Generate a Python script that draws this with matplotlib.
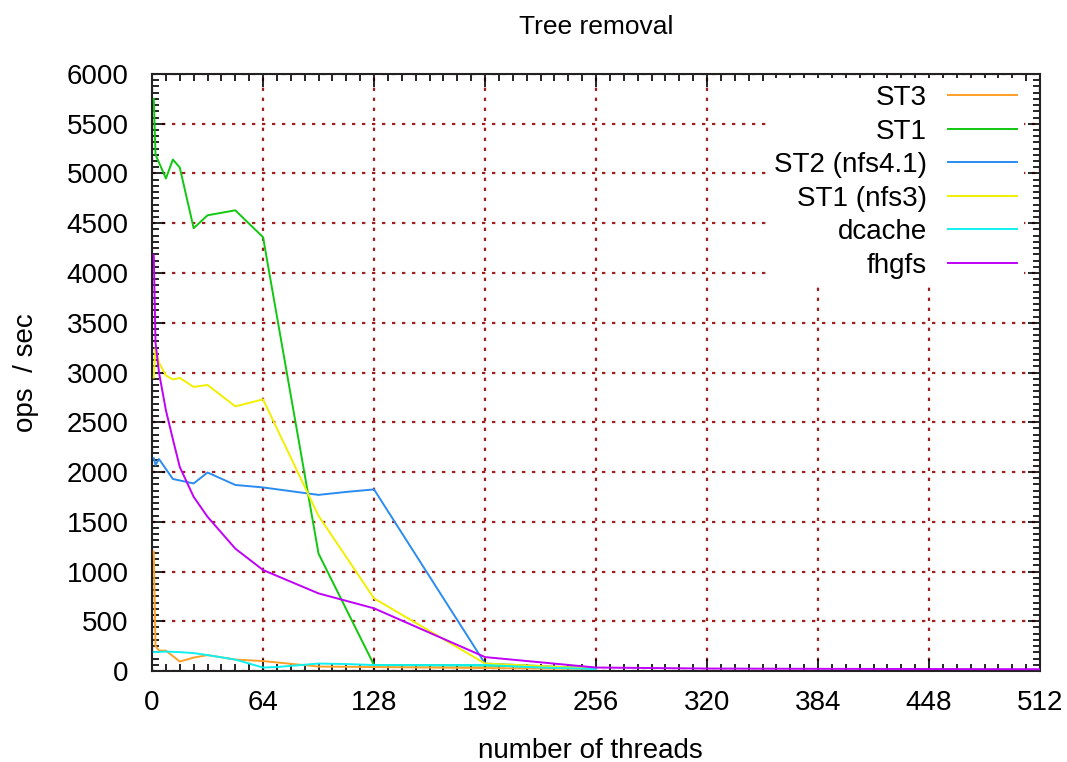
import matplotlib
matplotlib.use("Agg")
import matplotlib.pyplot as plt
from matplotlib.ticker import MultipleLocator, AutoMinorLocator

plt.rcParams['font.family'] = ['Liberation Sans', 'DejaVu Sans']

# thread counts and ops/sec per filesystem
x_st3 = [1, 2, 4, 8, 16, 24, 32, 48, 64, 96, 128, 192, 256]
y_st3 = [1200, 250, 205, 205, 95, 135, 160, 115, 100, 45, 40, 30, 20]

x_st1 = [1, 2, 8, 12, 16, 24, 32, 48, 64, 96, 128, 192, 256]
y_st1 = [5750, 5190, 4950, 5140, 5060, 4450, 4580, 4630, 4360, 1180, 60, 55, 30]

x_st2 = [1, 2, 4, 12, 24, 32, 48, 64, 96, 112, 128, 192, 256]
y_st2 = [2140, 2070, 2130, 1930, 1885, 1995, 1870, 1845, 1770, 1800, 1825, 75, 25]

x_nfs3 = [1, 2, 4, 8, 12, 16, 24, 32, 48, 64, 96, 128, 192, 256]
y_nfs3 = [2950, 3250, 3100, 2970, 2930, 2945, 2855, 2875, 2660, 2730, 1560, 730, 75, 25]

x_dcache = [1, 8, 16, 24, 32, 48, 64, 72, 96, 112, 128, 192, 224, 256]
y_dcache = [190, 195, 190, 180, 160, 115, 35, 40, 75, 70, 60, 60, 35, 20]

x_fhgfs = [1, 2, 4, 8, 12, 16, 24, 32, 48, 64, 96, 128, 192, 256, 320, 384, 448, 512]
y_fhgfs = [4180, 3300, 3000, 2620, 2330, 2050, 1750, 1550, 1230, 1015, 780, 630, 140, 35, 25, 22, 20, 18]

series = [
    ("ST3", x_st3, y_st3, "#ffa028"),
    ("ST1", x_st1, y_st1, "#10c810"),
    ("ST2 (nfs4.1)", x_st2, y_st2, "#2a8cf0"),
    ("ST1 (nfs3)", x_nfs3, y_nfs3, "#f0f000"),
    ("dcache", x_dcache, y_dcache, "#10f0f0"),
    ("fhgfs", x_fhgfs, y_fhgfs, "#c000f8"),
]

fig = plt.figure(figsize=(10.67, 7.62), dpi=100)
ax = fig.add_axes([0.1425, 0.1194, 0.8322, 0.7835])

for name, xs, ys, col in series:
    ax.plot(xs, ys, color=col, lw=1.4, label=name, zorder=3)

ax.set_xlim(0, 512)
ax.set_ylim(0, 6000)
ax.xaxis.set_major_locator(MultipleLocator(64))
ax.xaxis.set_minor_locator(AutoMinorLocator(8))
ax.yaxis.set_major_locator(MultipleLocator(500))
ax.yaxis.set_minor_locator(AutoMinorLocator(8))

ax.grid(True, which='major', color='#a02020', linestyle=(0, (1.5, 3)), lw=1.6)
ax.set_axisbelow(True)

ax.tick_params(which='both', direction='in', top=True, right=True, width=1.2, colors='black')
ax.tick_params(which='major', length=9, labelsize=20)
ax.tick_params(which='minor', length=5)
ax.tick_params(axis='x', pad=14)
ax.tick_params(axis='y', pad=17)
for sp in ax.spines.values():
    sp.set_linewidth(1.5)
    sp.set_color('#222222')

ax.set_title("Tree removal", fontsize=19, pad=29)
ax.set_xlabel("number of threads", fontsize=20)
ax.set_ylabel("ops  / sec", fontsize=20)
ax.xaxis.set_label_coords(0.494, -0.112)
ax.yaxis.set_label_coords(-0.127, 0.5)

leg = ax.legend(loc='upper right', bbox_to_anchor=(0.982, 0.993), fontsize=20,
                markerfirst=False, handlelength=2.5, handletextpad=0.75,
                labelspacing=0.27, borderpad=0.25, borderaxespad=0,
                frameon=True, fancybox=False, framealpha=1,
                facecolor='white', edgecolor='none')
leg.set_zorder(5)

fig.savefig("out.png", dpi=100)
